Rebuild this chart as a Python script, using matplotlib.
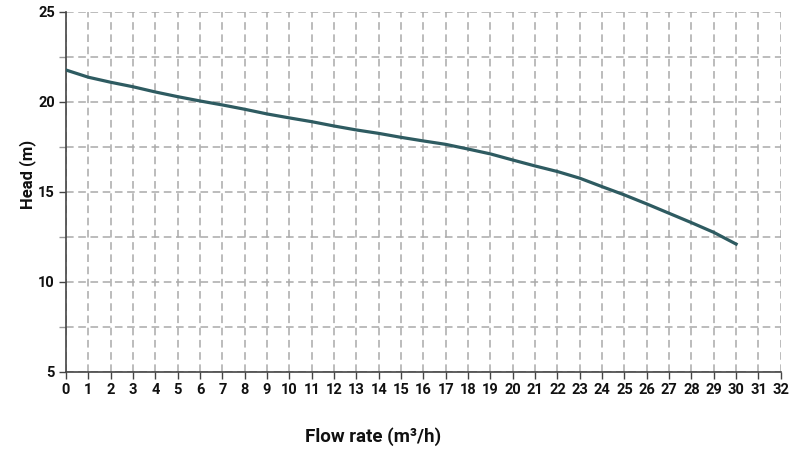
import matplotlib
matplotlib.use("Agg")
import matplotlib.pyplot as plt
from matplotlib.ticker import MultipleLocator

plt.rcParams['font.family'] = ['Roboto', 'DejaVu Sans']

flow = [0, 1, 2, 3, 4, 5, 6, 7, 8, 9, 10, 11, 12, 13, 14, 15, 16, 17, 18, 19,
        20, 21, 22, 23, 24, 25, 26, 27, 28, 29, 30]
head = [21.76, 21.36, 21.08, 20.83, 20.54, 20.28, 20.04, 19.82, 19.58, 19.32,
        19.10, 18.89, 18.65, 18.43, 18.24, 18.02, 17.82, 17.63, 17.37, 17.10,
        16.76, 16.43, 16.12, 15.75, 15.28, 14.82, 14.32, 13.80, 13.28, 12.74, 12.09]

x_ticks = list(range(0, 33))
y_ticks = [5, 10, 15, 20, 25]

fig = plt.figure(figsize=(8, 4.5), dpi=100)
ax = fig.add_axes([0.0825, 0.174, 0.8935, 0.800])

ax.plot(flow, head, color='#2e5b61', linewidth=2.3, solid_joinstyle='round', zorder=3)

ax.set_xlim(0, 32)
ax.set_ylim(5, 25)
ax.set_xticks(x_ticks)
ax.set_yticks(y_ticks)
ax.yaxis.set_minor_locator(MultipleLocator(2.5))

ax.grid(True, which='both', color='#aaaaaa', linestyle=(0, (5, 3)), linewidth=1.1)
ax.set_axisbelow(True)

for s in ['top', 'right']:
    ax.spines[s].set_visible(False)
for s in ['left', 'bottom']:
    ax.spines[s].set_color('#444444')
    ax.spines[s].set_linewidth(1.2)

ax.tick_params(axis='both', which='major', length=5, width=1.0, color='#444444',
               labelsize=10.5, labelcolor='#111111', pad=3)
ax.tick_params(axis='y', which='minor', length=5, width=1.0, color='#999999')
for lbl in ax.get_xticklabels() + ax.get_yticklabels():
    lbl.set_fontweight('semibold')

ax.set_xlabel('Flow rate (m³/h)', fontsize=13.5, fontweight='bold', color='#111111')
ax.set_ylabel('Head (m)', fontsize=12, fontweight='bold', color='#111111')
ax.xaxis.set_label_coords(0.429, -0.155)
ax.yaxis.set_label_coords(-0.042, 0.548)

fig.savefig('out.png', dpi=100)
